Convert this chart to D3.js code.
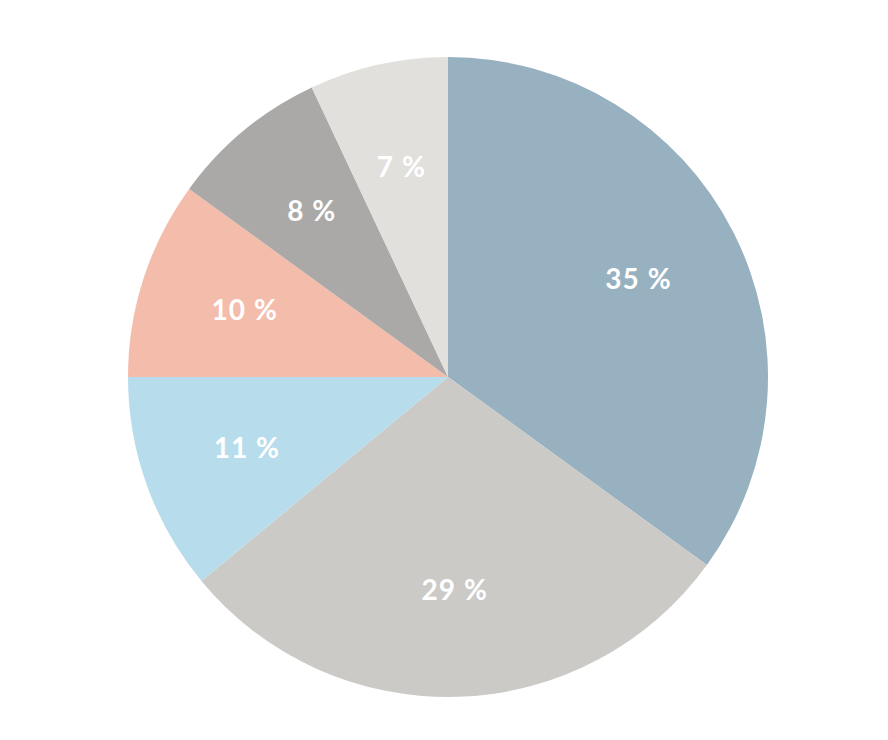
<!DOCTYPE html>
<html><head><meta charset="utf-8">
<script src="https://cdn.jsdelivr.net/npm/d3@7"></script>
<style>body{margin:0;background:#fff}</style>
</head><body>
<svg id="c" width="888" height="740"></svg>
<script>
const categories = ["A","B","C","D","E","F"];
const values = [35, 29, 11, 10, 8, 7];
const colors = ["#97b1c0", "#cccac7", "#b7ddec", "#f4bcab", "#aba9a8", "#e2e0dc"];
const labels = values.map(v => v + " %");

const svg = d3.select("#c");
const cx = 448, cy = 377, r = 320;
const g = svg.append("g").attr("transform", `translate(${cx},${cy})`);
const pie = d3.pie().sort(null).value(d => d);
const arcs = pie(values);
const arc = d3.arc().innerRadius(0).outerRadius(r);
const labelArc = d3.arc().innerRadius(r*0.668).outerRadius(r*0.668);
g.selectAll("path").data(arcs).join("path")
  .attr("d", arc).attr("fill", (d,i) => colors[i]);
g.selectAll("text").data(arcs).join("text")
  .attr("transform", d => { const c = labelArc.centroid(d); return `translate(${c[0]},${c[1]-2})`; })
  .attr("text-anchor", "middle").attr("dominant-baseline", "central")
  .attr("fill", "#fff").attr("font-family", "Lato, sans-serif")
  .attr("font-weight", "bold").attr("font-size", 28).attr("letter-spacing", "1px")
  .text((d,i) => labels[i]);
</script>
</body></html>
